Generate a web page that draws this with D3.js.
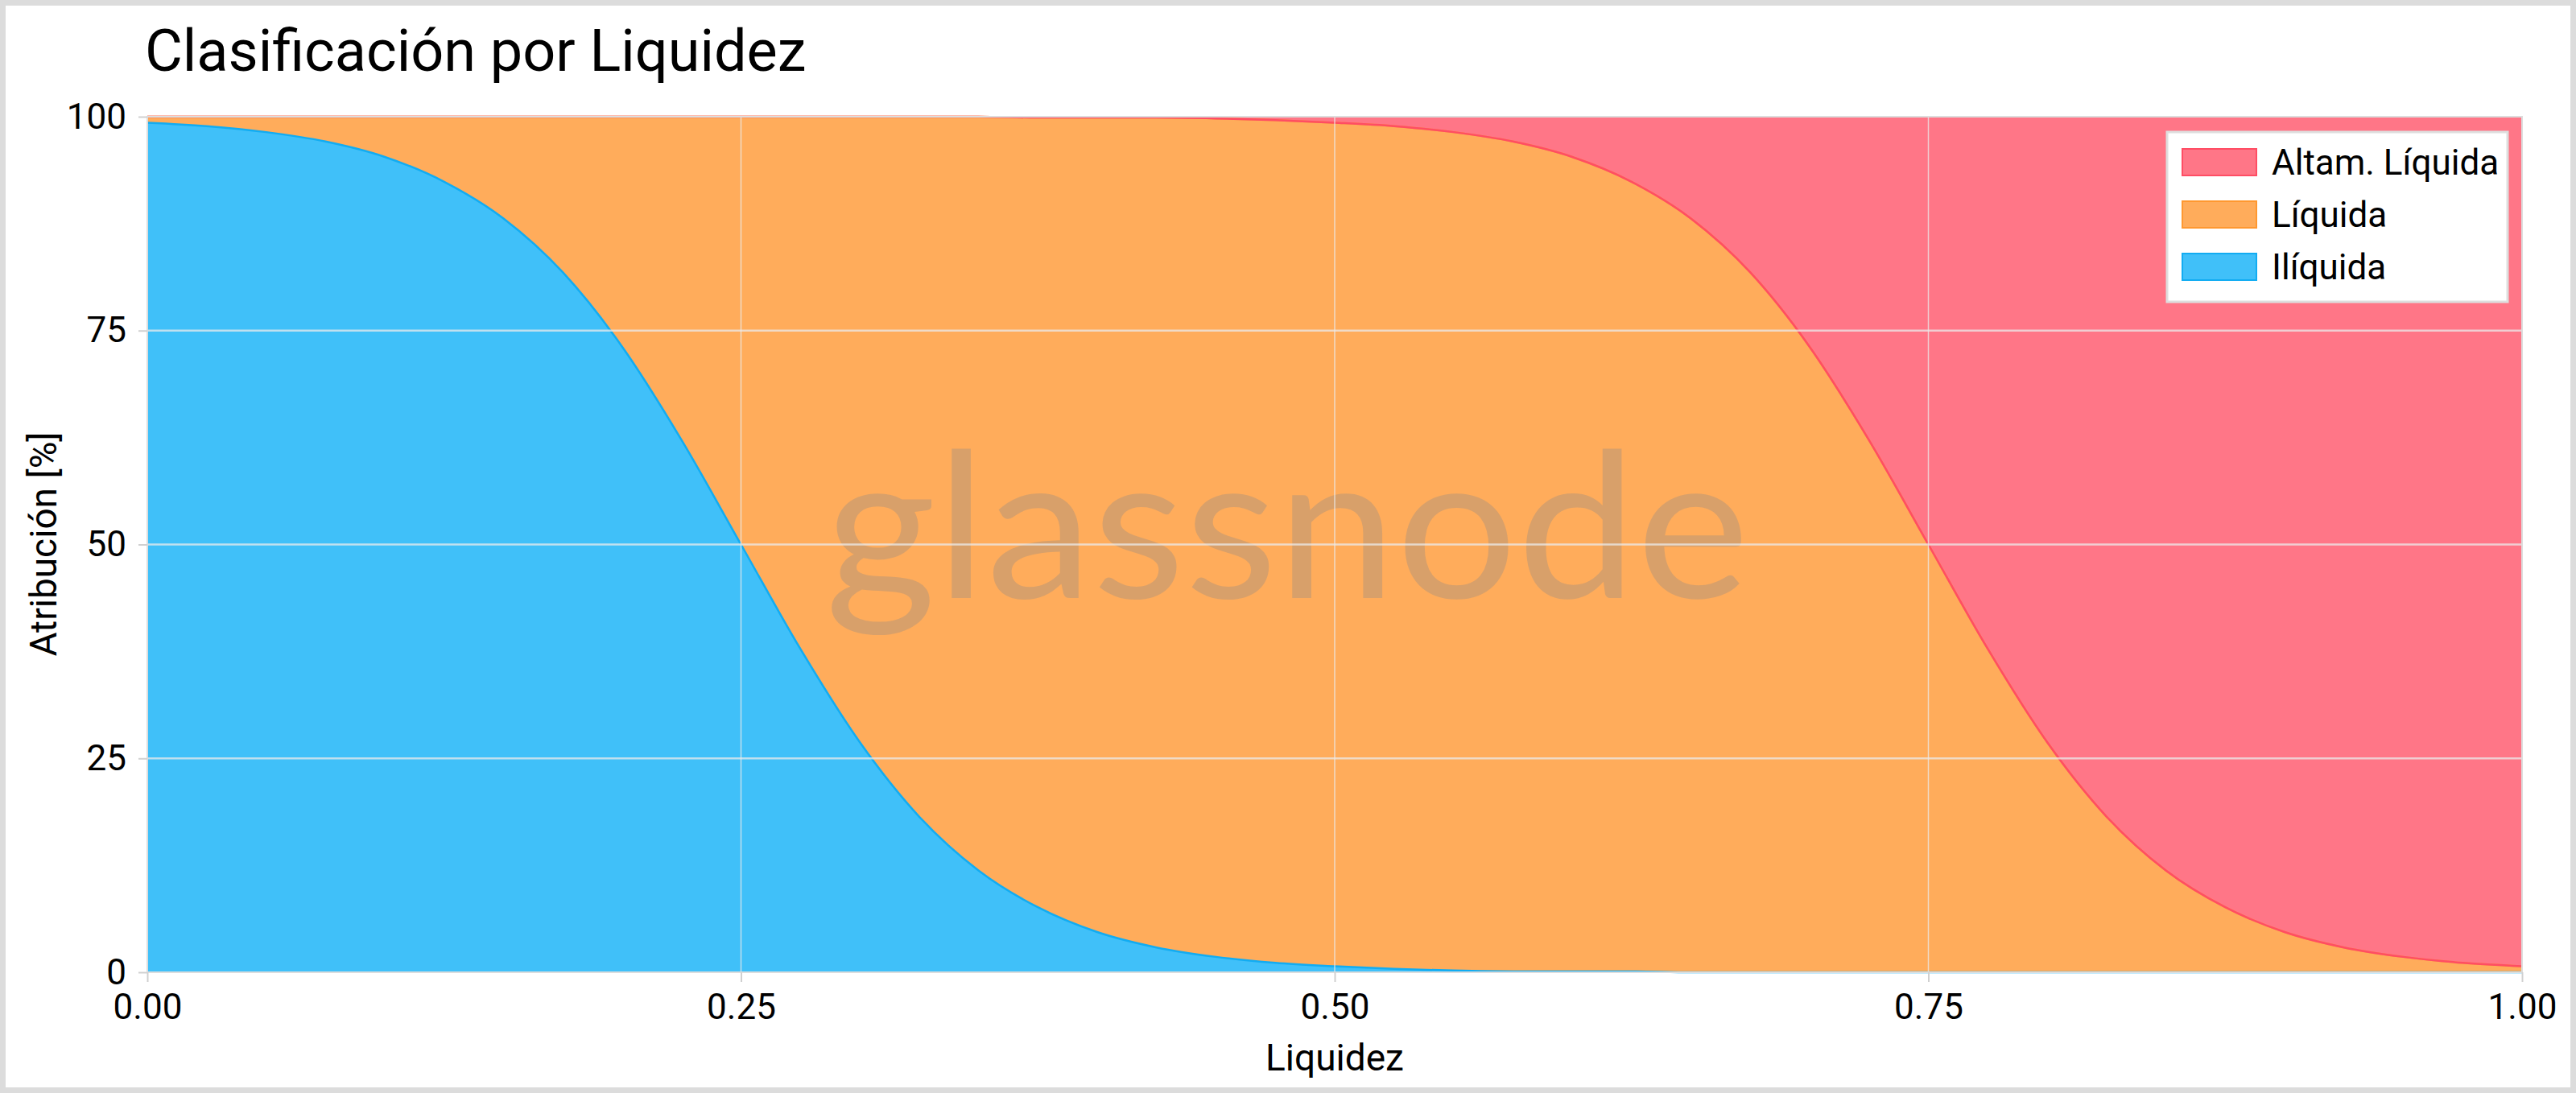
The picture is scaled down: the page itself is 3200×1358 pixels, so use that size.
<!DOCTYPE html>
<html>
<head>
<meta charset="utf-8">
<script src="https://cdn.jsdelivr.net/npm/d3@7"></script>
<style>
  html, body { margin: 0; padding: 0; background: #fff; }
  svg { display: block; }
  text { font-family: Roboto, "Noto Sans", sans-serif; }
</style>
</head>
<body>
<svg id="chart" width="3200" height="1358"></svg>
<script>
// ---- data ----
const liquidez = [0, 0.025, 0.05, 0.075, 0.1, 0.125, 0.15, 0.175, 0.2, 0.225, 0.25,
  0.275, 0.3, 0.325, 0.35, 0.375, 0.4, 0.425, 0.45, 0.475, 0.5,
  0.525, 0.55, 0.575, 0.6, 0.625, 0.65, 0.675, 0.7, 0.725, 0.75,
  0.775, 0.8, 0.825, 0.85, 0.875, 0.9, 0.925, 0.95, 0.975, 1];
const iliquida = [99.3, 98.9, 98.2, 97.1, 95.3, 92.4, 88.1, 81.8, 73.1, 62.2, 50.0,
  37.8, 26.9, 18.2, 11.9, 7.6, 4.7, 2.9, 1.8, 1.1, 0.7,
  0.4, 0.2, 0.1, 0.1, 0.1, 0, 0, 0, 0, 0,
  0, 0, 0, 0, 0, 0, 0, 0, 0, 0];
const liquida = [0.7, 1.1, 1.8, 2.9, 4.7, 7.6, 11.9, 18.2, 26.9, 37.8, 50.0,
  62.2, 73.1, 81.8, 88.1, 92.3, 95.2, 97.0, 98.0, 98.5, 98.6,
  98.5, 98.0, 97.0, 95.2, 92.3, 88.1, 81.8, 73.1, 62.2, 50.0,
  37.8, 26.9, 18.2, 11.9, 7.6, 4.7, 2.9, 1.8, 1.1, 0.7];
const altamLiquida = [0, 0, 0, 0, 0, 0, 0, 0, 0, 0, 0,
  0, 0, 0, 0, 0.1, 0.1, 0.1, 0.2, 0.4, 0.7,
  1.1, 1.8, 2.9, 4.7, 7.6, 11.9, 18.2, 26.9, 37.8, 50.0,
  62.2, 73.1, 81.8, 88.1, 92.4, 95.3, 97.1, 98.2, 98.9, 99.3];
const seriesNames = ["Ilíquida", "Líquida", "Altam. Líquida"];
const xTicks = [0, 0.25, 0.5, 0.75, 1];
const yTicks = [0, 25, 50, 75, 100];
const titleText = "Clasificación por Liquidez";
const xTitle = "Liquidez";
const yTitle = "Atribución [%]";

// ---- styles ----
const fills = ["#40c0f9", "#ffac5b", "#ff7687"];
const strokes = ["#12acf2", "#ff9830", "#ff4d64"];

const svg = d3.select("#chart");
const W = 3200, H = 1358;
const M = {left: 183, right: 3133, top: 145, bottom: 1208};

// outer frame
svg.append("rect").attr("x", 0).attr("y", 0).attr("width", W).attr("height", H).attr("fill", "#dcdcdc");
svg.append("rect").attr("x", 7).attr("y", 7).attr("width", W - 14).attr("height", H - 14).attr("fill", "#fff");

const x = d3.scaleLinear().domain([0, 1]).range([M.left, M.right]);
const y = d3.scaleLinear().domain([0, 100]).range([M.bottom, M.top]);

const rows = liquidez.map((v, i) => ({x: v, a: iliquida[i], b: liquida[i], c: altamLiquida[i]}));
const stack = d3.stack().keys(["a", "b", "c"]);
const layers = stack(rows);

const curve = d3.curveMonotoneX;
const area = d3.area().curve(curve).x(d => x(d.data.x)).y0(d => y(d[0])).y1(d => y(d[1]));

const gPlot = svg.append("g");
layers.forEach((L, i) => {
  gPlot.append("path").datum(L).attr("d", area).attr("fill", fills[i]);
});
// boundary lines
const lineTop = d3.line().curve(curve).x(d => x(d.data.x)).y(d => y(d[1]));
const lineBot = d3.line().curve(curve).x(d => x(d.data.x)).y(d => y(d[0]));
gPlot.append("path").datum(layers[0]).attr("d", lineTop).attr("fill", "none")
  .attr("stroke", strokes[0]).attr("stroke-width", 2.5);
gPlot.append("path").datum(layers[1]).attr("d", lineTop).attr("fill", "none")
  .attr("stroke", strokes[1]).attr("stroke-width", 2.5);
gPlot.append("path").datum(layers[2]).attr("d", lineBot).attr("fill", "none")
  .attr("stroke", strokes[2]).attr("stroke-width", 2.5);

// watermark
svg.append("text")
  .attr("x", 1599).attr("y", 743)
  .attr("text-anchor", "middle")
  .attr("textLength", 1148).attr("lengthAdjust", "spacingAndGlyphs")
  .style("font-family", "Lato, Roboto, sans-serif")
  .style("font-size", "252px")
  .attr("fill", "rgba(138,138,138,0.33)")
  .text("glassnode");

// gridlines
const grid = svg.append("g");
grid.selectAll("line.h").data(yTicks.filter(t => t > 0 && t < 100)).join("line")
  .attr("x1", M.left).attr("x2", M.right)
  .attr("y1", d => y(d)).attr("y2", d => y(d))
  .attr("stroke", "rgba(235,235,235,0.75)").attr("stroke-width", 2.5);
grid.selectAll("line.v").data(xTicks.filter(t => t > 0 && t < 1)).join("line")
  .attr("y1", M.top).attr("y2", M.bottom)
  .attr("x1", d => x(d)).attr("x2", d => x(d))
  .attr("stroke", "rgba(235,235,235,0.75)").attr("stroke-width", 1.5);

// plot frame
svg.append("rect").attr("x", M.left).attr("y", M.top)
  .attr("width", M.right - M.left).attr("height", M.bottom - M.top)
  .attr("fill", "none").attr("stroke", "#dddddd").attr("stroke-width", 2);

// axes
const yAxis = svg.append("g").attr("transform", `translate(${M.left},0)`)
  .call(d3.axisLeft(y).tickValues(yTicks).tickSize(11).tickPadding(15).tickFormat(d3.format("d")));
const xAxis = svg.append("g").attr("transform", `translate(0,${M.bottom})`)
  .call(d3.axisBottom(x).tickValues(xTicks).tickSize(12).tickPadding(15).tickFormat(d3.format(".2f")));
[yAxis, xAxis].forEach(a => {
  a.select(".domain").remove();
  a.selectAll(".tick line").attr("stroke", "#d0d0d0").attr("stroke-width", 2);
  a.selectAll(".tick text").attr("fill", "#000").style("font-size", "44px").style("font-family", "Roboto, sans-serif");
});

// titles
svg.append("text").attr("x", 180).attr("y", 88)
  .style("font-size", "72px").attr("fill", "#000").text(titleText);
svg.append("text").attr("x", (M.left + M.right) / 2).attr("y", 1330)
  .attr("text-anchor", "middle").style("font-size", "46px").attr("fill", "#000").text(xTitle);
svg.append("text").attr("transform", "translate(70,676) rotate(-90)")
  .attr("text-anchor", "middle").style("font-size", "46px").attr("fill", "#000").text(yTitle);

// legend
const leg = svg.append("g");
leg.append("rect").attr("x", 2692).attr("y", 164).attr("width", 423).attr("height", 211)
  .attr("fill", "#fff").attr("stroke", "#dedede").attr("stroke-width", 3);
const legendOrder = [2, 1, 0];
legendOrder.forEach((si, k) => {
  leg.append("rect").attr("x", 2711).attr("y", 185 + k * 65).attr("width", 92).attr("height", 33)
    .attr("fill", fills[si]).attr("stroke", strokes[si]).attr("stroke-width", 2);
  leg.append("text").attr("x", 2822).attr("y", 217 + k * 65)
    .style("font-size", "44px").attr("fill", "#000").text(seriesNames[si]);
});
</script>
</body>
</html>
